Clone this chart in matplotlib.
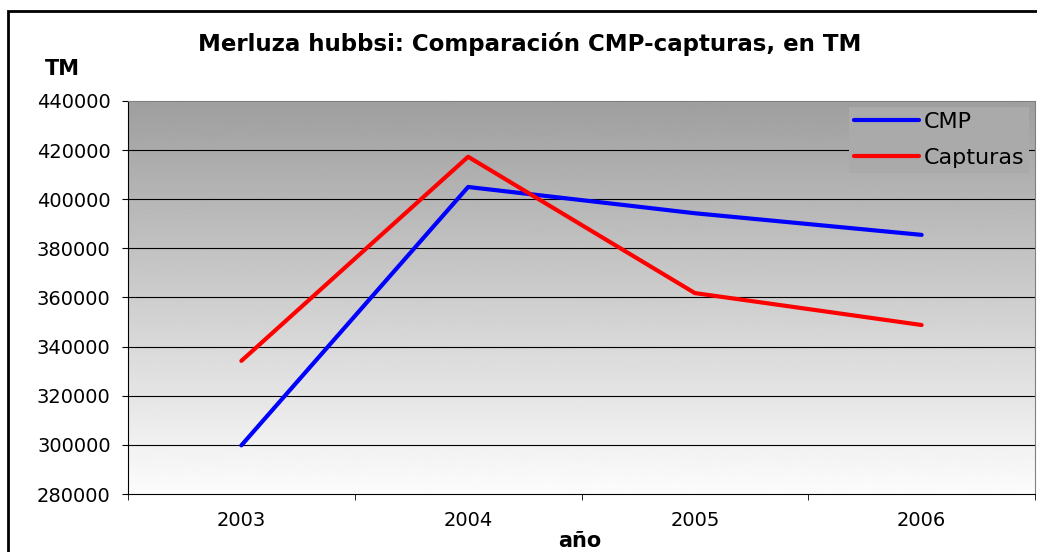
import numpy as np
import matplotlib
matplotlib.use("Agg")
import matplotlib.pyplot as plt
from matplotlib.patches import Rectangle

# datos
years = ["2003", "2004", "2005", "2006"]
cmp_vals = [299800, 405000, 394300, 385500]
capturas = [334200, 417300, 361800, 348800]
y_ticks = [280000, 300000, 320000, 340000, 360000, 380000, 400000, 420000, 440000]

fig = plt.figure(figsize=(10.37, 5.52), dpi=100)
ax = fig.add_axes([128 / 1037, 58 / 552, 907 / 1037, 393 / 552])

x = np.arange(len(years))
ax.set_xlim(-0.5, len(years) - 0.5)
ax.set_ylim(280000, 440000)

# fondo degradado gris -> blanco
grad = np.linspace(0.99, 0.62, 256).reshape(-1, 1)
ax.imshow(grad, cmap="gray", vmin=0, vmax=1, aspect="auto",
          extent=[-0.5, len(years) - 0.5, 280000, 440000], origin="lower", zorder=0)

for t in y_ticks[1:-1]:
    ax.axhline(t, color="black", lw=0.8, zorder=1)

ax.plot(x, cmp_vals, color="#0000ff", lw=3, label="CMP", zorder=3, solid_capstyle="round")
ax.plot(x, capturas, color="#ff0000", lw=3, label="Capturas", zorder=3, solid_capstyle="round")

ax.set_yticks(y_ticks)
ax.set_yticklabels([str(t) for t in y_ticks])
ax.set_xticks(x)
ax.set_xticklabels(years)
ax.set_xticks(np.arange(-0.5, len(years)), minor=True)
ax.tick_params(axis="x", which="major", length=0, pad=12, labelsize=14)
ax.tick_params(axis="x", which="minor", length=4.5, direction="out", color="black")
ax.tick_params(axis="y", length=4.5, direction="out", labelsize=14, pad=8)

ax.spines["left"].set_color("black")
ax.spines["bottom"].set_color("black")
ax.spines["top"].set_color("#808080")
ax.spines["right"].set_color("#808080")

leg = ax.legend(loc="upper right", bbox_to_anchor=(1.0, 1.0), frameon=True, fontsize=16,
                handlelength=2.9, handletextpad=0.2, labelspacing=0.7, borderpad=0.25,
                borderaxespad=0.25, fancybox=False)
leg.get_frame().set_facecolor("#aaaaaa")
leg.get_frame().set_edgecolor("none")
leg.get_frame().set_alpha(1.0)

fig.text(530 / 1037, 1 - 44 / 552, "Merluza hubbsi: Comparación CMP-capturas, en TM",
         ha="center", va="center", fontsize=16.5, fontweight="bold")
fig.text(62 / 1037, 1 - 69 / 552, "TM", ha="center", va="center", fontsize=15, fontweight="bold")
fig.text(580 / 1037, 1 - 541 / 552, "año", ha="center", va="center", fontsize=15, fontweight="bold")

# marco exterior del grafico
fig.patches.append(Rectangle((8 / 1037, -0.05), 1.2, 1 - 11 / 552 + 0.05, transform=fig.transFigure,
                             fill=False, edgecolor="black", lw=2, figure=fig))

fig.savefig("out.png", dpi=100)
